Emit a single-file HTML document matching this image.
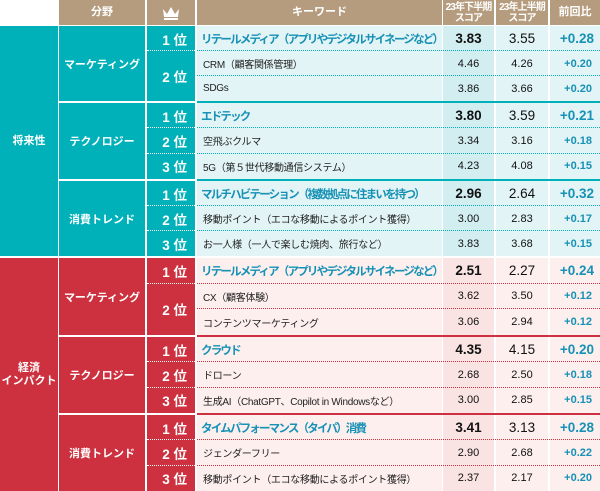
<!DOCTYPE html>
<html><head><meta charset="utf-8">
<style>
body{margin:0;width:600px;height:491px;background:#fff;overflow:hidden;position:relative;font-family:"Liberation Sans","Noto Sans CJK JP",sans-serif;}
.c{position:absolute;display:flex;align-items:center;box-sizing:border-box;white-space:nowrap;overflow:hidden;}
.hd{background:#b59c7e;color:#fff;font-weight:bold;font-size:11px;justify-content:center;text-align:center;line-height:11px;}
.ln{position:absolute;}
</style></head><body>
<div class="c hd" style="left:59px;top:0;width:86px;height:25px;">分野</div>
<div class="c hd" style="left:147px;top:0;width:48px;height:25px;">
<svg width="18" height="14" viewBox="0 0 18 14"><path d="M1 3 L5 8 L9 1 L13 8 L17 3 L16 11 L2 11 Z" fill="#fff"/><rect x="2" y="12" width="14" height="2" fill="#fff"/></svg></div>
<div class="c hd" style="left:197px;top:0;width:245px;height:25px;">キーワード</div>
<div class="c hd" style="left:443px;top:0;width:51px;height:25px;font-size:10px;letter-spacing:-0.9px;">23年下半期<br>スコア</div>
<div class="c hd" style="left:496px;top:0;width:52px;height:25px;font-size:10px;letter-spacing:-0.9px;">23年上半期<br>スコア</div>
<div class="c hd" style="left:550px;top:0;width:50px;height:25px;">前回比</div>
<div id="t"></div>
<script>
const sections=["将来性","経済<br>インパクト"];
const groupFields=["マーケティング","テクノロジー","消費トレンド","マーケティング","テクノロジー","消費トレンド"];
const groupStarts=[26,103,181,258,337,415];
const keywords=[
"リテールメディア（アプリやデジタルサイネージなど）","CRM（顧客関係管理）","SDGs",
"エドテック","空飛ぶクルマ","5G（第５世代移動通信システム）",
"マルチハビテーション（複数拠点に住まいを持つ）","移動ポイント（エコな移動によるポイント獲得）","お一人様（一人で楽しむ焼肉、旅行など）",
"リテールメディア（アプリやデジタルサイネージなど）","CX（顧客体験）","コンテンツマーケティング",
"クラウド","ドローン","生成AI（ChatGPT、Copilot in Windowsなど）",
"タイムパフォーマンス（タイパ）消費","ジェンダーフリー","移動ポイント（エコな移動によるポイント獲得）"];
const scoreH2=[3.83,4.46,3.86,3.80,3.34,4.23,2.96,3.00,3.83,2.51,3.62,3.06,4.35,2.68,3.00,3.41,2.90,2.37];
const scoreH1=[3.55,4.26,3.66,3.59,3.16,4.08,2.64,2.83,3.68,2.27,3.50,2.94,4.15,2.50,2.85,3.13,2.68,2.17];
const changes=["+0.28","+0.20","+0.20","+0.21","+0.18","+0.15","+0.32","+0.17","+0.15","+0.24","+0.12","+0.12","+0.20","+0.18","+0.15","+0.28","+0.22","+0.20"];
const ranks=["1 位","2 位","","1 位","2 位","3 位","1 位","2 位","3 位","1 位","2 位","","1 位","2 位","3 位","1 位","2 位","3 位"];
const T=document.getElementById('t');
function box(x,y,w,h,style,html,name){const d=document.createElement('div');d.className='c';d.style.cssText=`left:${x}px;top:${y}px;width:${w}px;height:${h}px;`+style;d.innerHTML=html;


T.appendChild(d);return d;}
const teal='#00b1b9',red='#cd313f',blue='#1791b5';
for(let s=0;s<2;s++){
 const col=s?red:teal, top=groupStarts[s*3], bot=s?491:groupStarts[3]-2;
 box(0,top,58,bot-top,`background:${col};color:#fff;font-weight:bold;font-size:11px;justify-content:center;text-align:center;line-height:13px;`,sections[s],'section-label');
}
for(let g=0;g<6;g++){
 const s=g<3?0:1, col=s?red:teal, light=s?'#fcefee':'#e2f4f6', light2=s?'#f9e4e3':'#d3eef1';
 const y0=groupStarts[g], y1=(g==5?491:groupStarts[g+1]-2), rh=(y1-y0)/3;
 box(59,y0,86,y1-y0,`background:${col};color:#fff;font-weight:bold;font-size:11px;justify-content:center;`,groupFields[g],'field-label');
 box(147,y0,48,y1-y0,`background:${col};`,'','rank-cell');
 for(let r=0;r<3;r++){
  const i=g*3+r, y=y0+r*rh;
  if(ranks[i]){const merged=(r==1&&!ranks[i+1]);
   box(147,y,48,merged?rh*2:rh,`color:#fff;font-weight:bold;font-size:13.5px;justify-content:flex-end;padding-right:8px;`,ranks[i],'rank-label');}
  const top1=r==0;
  box(197,y,245,rh,`background:${light};padding-left:${top1?4:6}px;font-size:${top1?11.5:10}px;${top1?'font-weight:bold;letter-spacing:-1.8px;color:'+blue+';':'letter-spacing:-0.3px;color:#222;'}`,keywords[i],'keyword');
  box(443,y,51,rh,`background:${light2};justify-content:center;font-size:${top1?13.5:11}px;${top1?'font-weight:bold;':''}color:#111;`,scoreH2[i].toFixed(2),'score-h2');
  box(496,y,52,rh,`background:${light};justify-content:center;font-size:${top1?13.5:11}px;color:#111;`,scoreH1[i].toFixed(2),'score-h1');
  box(550,y,50,rh,`background:${light};justify-content:flex-end;padding-right:${top1?6:8}px;font-weight:bold;font-size:${top1?13.5:11}px;color:${blue};`,changes[i],'change');
  if(r>0){const l=document.createElement('div');l.className='ln';l.style.cssText=`left:197px;top:${y-1}px;width:403px;border-top:1.5px dotted ${col};`;
   
   
   T.appendChild(l);
   if(ranks[i]){const w=document.createElement('div');w.className='ln';w.style.cssText=`left:147px;top:${y-1}px;width:48px;border-top:1.5px dotted #fff;`;
   
   
   T.appendChild(w);}}
 }
 if(g<5){const l=document.createElement('div');l.className='ln';l.style.cssText=`left:197px;top:${y1}px;width:403px;height:2px;background:${g==2?'#fff':col};`;
 
 
 T.appendChild(l);}
}
</script>
</body></html>
